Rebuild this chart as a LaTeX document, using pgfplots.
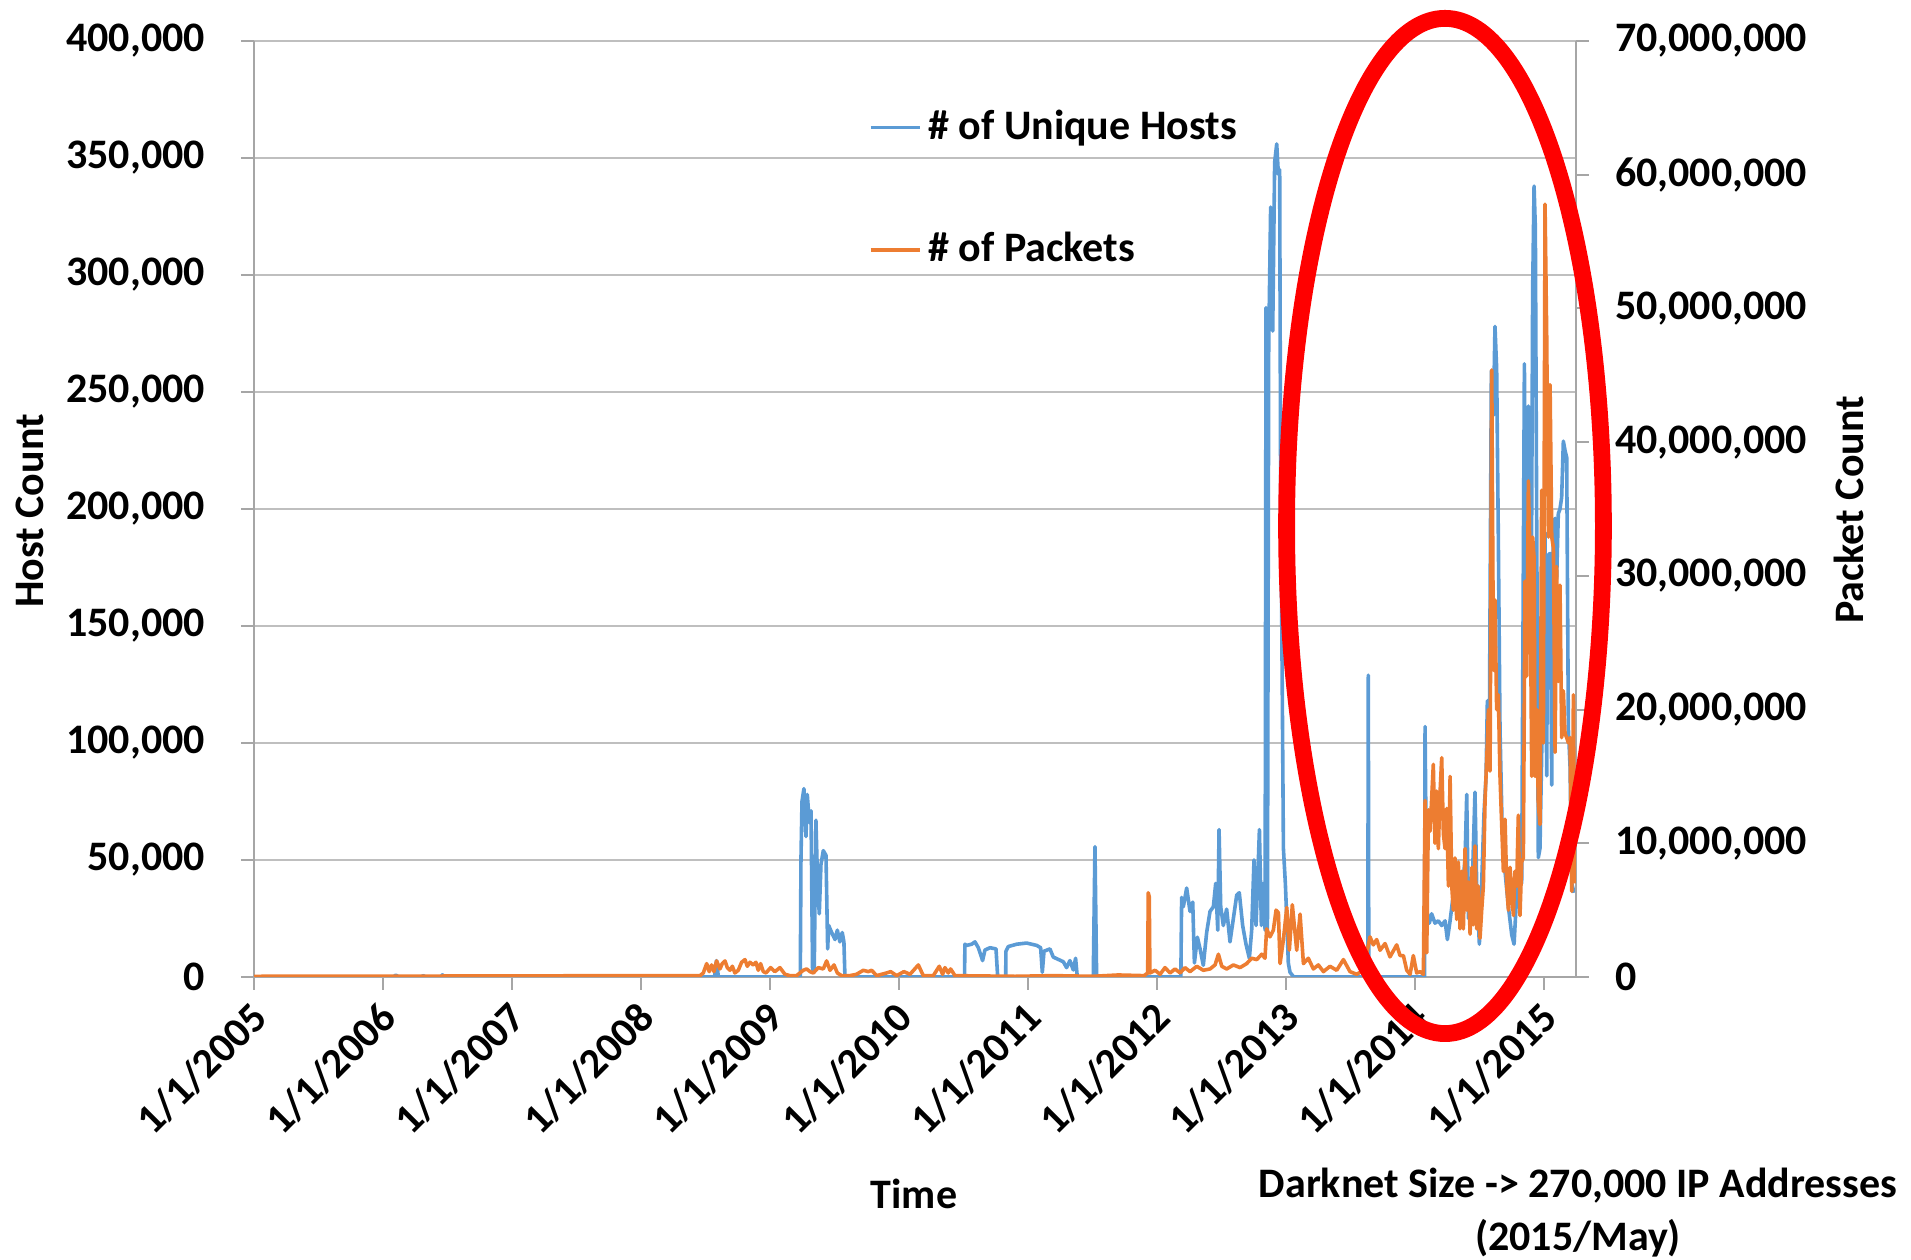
\documentclass[border=0pt]{standalone}
\usepackage{fontspec}
\setmainfont{Carlito}
\usepackage{pgfplots}
\pgfplotsset{compat=1.18}
\definecolor{hostblue}{HTML}{5B9BD5}
\definecolor{pktorange}{HTML}{ED7D31}
\definecolor{gridgray}{HTML}{BFBFBF}
\definecolor{axgray}{HTML}{A6A6A6}
\newcommand{\lbl}{\bfseries\fontsize{10.5}{12.6}\selectfont}
\begin{document}
\begin{tikzpicture}
\path[use as bounding box] (0,0) rectangle (477.75pt,315pt);
\begin{axis}[
  at={(63.5pt,70.75pt)}, anchor=south west, scale only axis,
  width=330.5pt, height=234pt,
  xmin=2005, xmax=2015.248, ymin=0, ymax=400000,
  axis x line*=bottom, axis y line*=left,
  axis line style={axgray, line width=0.6pt, -},
  xtick={2005,2006,2007,2008,2009,2010,2011,2012,2013,2014,2015},
  xticklabels={1/1/2005,1/1/2006,1/1/2007,1/1/2008,1/1/2009,1/1/2010,1/1/2011,1/1/2012,1/1/2013,1/1/2014,1/1/2015},
  ytick={0,50000,100000,150000,200000,250000,300000,350000,400000},
  scaled y ticks=false,
  ymajorgrids, grid style={gridgray, line width=0.5pt},
  tick align=outside, major tick length=3.25pt,
  tick style={axgray, line width=0.5pt},
  ticklabel style={font=\lbl},
  yticklabel style={/pgf/number format/fixed, /pgf/number format/1000 sep={,}, /pgf/number format/assume math mode=true, xshift=-5.5pt},
  xticklabel style={xshift=1.5pt, yshift=-5pt, rotate=45, anchor=east, inner sep=0pt},
]
\addplot[hostblue, line width=0.9pt, line join=round] coordinates {
(2005.0,0) (2006.08,0) (2006.10,800) (2006.12,0) (2006.30,0) (2006.31,600) (2006.33,0) (2006.45,0) (2006.46,900) (2006.48,0) (2008.57,0) (2008.585,7000) (2008.60,0) (2009.235,0)
(2009.240,50000) (2009.248,75000) (2009.263,80500) (2009.279,60000) (2009.289,78000) (2009.305,66000) (2009.318,71000) (2009.330,3000) (2009.343,3000) (2009.356,67000) (2009.369,40000) (2009.382,27000) (2009.395,48000) (2009.413,54000) (2009.434,52000) (2009.447,12000) (2009.455,22000) (2009.478,19000) (2009.504,16000) (2009.522,20000) (2009.542,15000) (2009.560,19000) (2009.573,15000) (2009.581,0)
(2010.508,0) (2010.511,14000) (2010.524,13500) (2010.563,14000) (2010.589,15000) (2010.615,12500) (2010.648,7000) (2010.666,11500) (2010.705,12500) (2010.752,12000) (2010.765,0) (2010.827,0) (2010.829,11000) (2010.847,13000) (2010.912,14000) (2010.989,14500) (2011.067,13500) (2011.098,12500) (2011.111,2000) (2011.124,11000) (2011.170,12000) (2011.196,8500) (2011.274,6500) (2011.299,4000) (2011.325,7000) (2011.351,3000) (2011.369,8000) (2011.382,0) (2011.506,0) (2011.519,55700) (2011.532,0) (2012.185,0)
(2012.191,34000) (2012.204,30000) (2012.230,38000) (2012.256,28000) (2012.277,32000) (2012.290,6000) (2012.313,17000) (2012.334,12000) (2012.359,5000) (2012.385,19000) (2012.411,28000) (2012.437,30000) (2012.455,40000) (2012.471,20000) (2012.481,63000) (2012.494,30000) (2012.514,22000) (2012.540,29000) (2012.566,15000) (2012.592,25000) (2012.618,35000) (2012.638,36000) (2012.664,22000) (2012.690,14000) (2012.716,8000) (2012.734,20000) (2012.752,50000) (2012.768,22000) (2012.794,63000) (2012.809,22000) (2012.825,40000) (2012.838,20000) (2012.845,286000) (2012.856,20000) (2012.866,270000) (2012.881,329000) (2012.892,300000) (2012.897,276000) (2012.912,348000) (2012.928,356000) (2012.941,343000) (2012.951,345000) (2012.959,200000) (2012.967,153000) (2012.980,55000) (2012.995,40000) (2013.006,25000) (2013.018,6000) (2013.031,2000) (2013.06,0) (2013.634,0) (2013.638,129000) (2013.642,0) (2014.074,0) (2014.078,107000)
(2014.091,28000) (2014.111,23000) (2014.129,27000) (2014.155,23000) (2014.181,24000) (2014.207,22000) (2014.233,24000) (2014.251,16000) (2014.272,24000) (2014.292,33000) (2014.310,30000) (2014.328,35000) (2014.349,28000) (2014.370,40000) (2014.388,50000) (2014.401,78000) (2014.414,25000) (2014.432,40000) (2014.447,45000) (2014.465,79000) (2014.478,40000) (2014.499,14000) (2014.517,40000) (2014.535,70000) (2014.551,86000) (2014.561,118000) (2014.577,110000) (2014.592,259000) (2014.608,240000) (2014.620,278000) (2014.633,260000) (2014.646,188000) (2014.659,106000) (2014.675,65000) (2014.698,45000) (2014.724,30000) (2014.750,18000) (2014.768,14000) (2014.788,35000) (2014.809,45000) (2014.827,40000) (2014.848,262000) (2014.861,150000) (2014.879,244000) (2014.892,170000) (2014.900,137000) (2014.912,293000) (2014.923,338000) (2014.933,320000) (2014.943,200000) (2014.956,51000) (2014.969,55000) (2014.990,120000) (2015.008,190000) (2015.021,86000) (2015.029,180000) (2015.047,181000) (2015.060,82000) (2015.073,194000) (2015.086,196000) (2015.098,170000) (2015.111,198000) (2015.124,200000) (2015.137,205000) (2015.150,229000) (2015.163,225000) (2015.176,222000) (2015.189,106000) (2015.202,90000) (2015.215,40000) (2015.233,36000)
};
\end{axis}
\begin{axis}[
  at={(63.5pt,70.75pt)}, anchor=south west, scale only axis,
  width=330.5pt, height=234pt,
  xmin=2005, xmax=2015.248, ymin=0, ymax=70000000,
  axis x line=none, axis y line*=right,
  axis line style={axgray, line width=0.6pt, -},
  ytick={0,10000000,20000000,30000000,40000000,50000000,60000000,70000000},
  scaled y ticks=false,
  tick align=outside, major tick length=3.25pt,
  tick style={axgray, line width=0.5pt},
  ticklabel style={font=\lbl},
  yticklabel style={/pgf/number format/fixed, /pgf/number format/1000 sep={,}, /pgf/number format/assume math mode=true, xshift=3pt},
  legend style={at={(0.4644,0.842)}, anchor=west, draw=none, fill=none, inner sep=0pt,
    nodes={inner sep=0pt, font=\lbl}, row sep=21.8pt, column sep=1.75pt},
  legend cell align=left,
  legend image code/.code={\draw[#1] (0pt,0pt) -- (12.25pt,0pt);},
]
\addlegendimage{hostblue, line width=0.75pt}
\addlegendentry{\# of Unique Hosts}
\addplot[pktorange, line width=0.9pt, line join=round] coordinates {
(2005.0,50000) (2006.0,60000) (2007.0,80000) (2008.0,100000) (2008.457,100000)
(2008.483,300000) (2008.509,1000000) (2008.529,400000) (2008.547,900000) (2008.566,400000) (2008.586,1200000) (2008.612,600000) (2008.630,1000000) (2008.651,1200000) (2008.669,700000) (2008.690,500000) (2008.708,800000) (2008.728,300000) (2008.754,500000) (2008.780,1100000) (2008.806,1300000) (2008.824,800000) (2008.845,1100000) (2008.870,900000) (2008.891,1100000) (2008.909,500000) (2008.927,1000000) (2008.948,400000) (2008.969,300000) (2009.005,700000) (2009.038,400000) (2009.077,700000) (2009.116,200000) (2009.155,100000) (2009.206,100000) (2009.258,500000) (2009.284,600000) (2009.310,400000) (2009.336,300000) (2009.374,700000) (2009.413,600000) (2009.439,1200000) (2009.465,500000) (2009.496,900000) (2009.522,300000) (2009.555,100000) (2009.620,100000) (2009.671,200000) (2009.723,500000) (2009.762,400000) (2009.788,500000) (2009.827,100000) (2009.904,300000) (2009.935,400000) (2009.982,100000) (2010.038,400000) (2010.085,200000) (2010.150,900000) (2010.188,100000) (2010.266,100000) (2010.312,800000) (2010.338,200000) (2010.356,700000) (2010.382,300000) (2010.400,600000) (2010.434,100000)
(2010.6,80000) (2010.9,50000) (2011.2,100000) (2011.5,50000) (2011.7,150000) (2011.9,100000) (2011.928,300000) (2011.932,6300000) (2011.940,6000000) (2011.945,300000)
(2011.985,500000) (2012.024,200000) (2012.062,700000) (2012.101,300000) (2012.140,600000) (2012.179,300000) (2012.217,700000) (2012.256,400000) (2012.308,800000) (2012.359,500000) (2012.411,600000) (2012.450,900000) (2012.476,1700000) (2012.502,800000) (2012.540,600000) (2012.592,900000) (2012.644,700000) (2012.695,1000000) (2012.734,1400000) (2012.773,1300000) (2012.812,1700000) (2012.837,1400000) (2012.850,3600000) (2012.876,3000000) (2012.902,3500000) (2012.923,5000000) (2012.941,4800000) (2012.954,1000000) (2012.980,2800000) (2013.006,5200000) (2013.026,2000000) (2013.049,5400000) (2013.083,2000000) (2013.109,4700000) (2013.135,1000000) (2013.173,1400000) (2013.212,600000) (2013.251,900000) (2013.290,400000) (2013.341,800000) (2013.393,500000) (2013.445,1300000) (2013.496,400000) (2013.548,200000) (2013.600,500000) (2013.651,3000000) (2013.677,2400000) (2013.703,2800000) (2013.729,2000000) (2013.768,2500000) (2013.806,1500000) (2013.858,2400000) (2013.884,1600000)
(2013.910,1600000) (2013.936,500000) (2013.962,200000) (2013.987,1600000) (2014.013,300000) (2014.039,400000) (2014.065,200000)
(2014.078,13200000) (2014.091,1800000) (2014.104,12500000) (2014.117,10900000) (2014.142,15900000) (2014.155,10000000) (2014.168,13900000) (2014.181,9600000) (2014.194,13750000) (2014.207,16400000) (2014.220,10700000) (2014.233,9600000) (2014.246,12600000) (2014.259,6800000) (2014.272,15000000) (2014.285,6800000) (2014.297,5000000) (2014.310,8900000) (2014.323,4300000) (2014.336,8600000) (2014.349,3600000) (2014.362,7900000) (2014.375,3600000) (2014.388,9600000) (2014.401,5000000) (2014.414,7100000) (2014.427,3200000) (2014.440,8200000) (2014.452,3900000) (2014.465,9800000) (2014.478,3600000) (2014.491,6800000) (2014.504,2900000) (2014.517,5000000) (2014.530,6800000) (2014.543,13200000) (2014.561,17500000) (2014.569,20000000) (2014.582,15400000) (2014.595,45400000) (2014.608,23200000) (2014.615,22900000) (2014.620,28200000) (2014.633,20000000) (2014.646,21100000) (2014.659,15000000) (2014.672,11400000) (2014.685,7900000) (2014.698,11800000) (2014.711,6800000) (2014.724,5000000) (2014.737,8200000) (2014.750,6100000) (2014.763,4600000) (2014.775,7900000) (2014.788,6800000) (2014.801,12100000) (2014.814,4600000) (2014.827,8600000) (2014.840,8900000) (2014.853,29600000) (2014.866,22500000) (2014.879,37100000) (2014.892,31100000) (2014.905,15000000) (2014.912,32900000) (2014.923,31400000) (2014.931,15000000) (2014.944,20000000) (2014.956,12900000) (2014.969,11400000) (2014.982,36400000) (2014.990,33200000) (2014.995,17500000) (2015.008,57800000) (2015.021,47900000) (2015.034,32900000) (2015.047,44300000) (2015.060,32900000) (2015.073,32100000) (2015.086,16800000) (2015.098,30700000) (2015.111,22100000) (2015.124,29300000) (2015.137,17900000) (2015.150,21400000) (2015.163,18200000) (2015.176,17900000) (2015.189,17500000) (2015.202,17900000) (2015.215,6400000) (2015.228,21100000) (2015.236,7000000)
};
\addlegendentry{\# of Packets}
\end{axis}
\node[font=\lbl, rotate=90] at (7.5pt,187.25pt) {Host Count};
\node[font=\lbl, rotate=90] at (462.25pt,187.5pt) {Packet Count};
\node[font=\lbl] at (228.5pt,16.4pt) {Time};
\node[font=\lbl] at (394.5pt,18.5pt) {Darknet Size -> 270,000 IP Addresses};
\node[font=\lbl] at (394.5pt,5.5pt) {(2015/May)};
\draw[red, line width=4.2pt] (361.25pt,183.5pt) ellipse [x radius=39.6pt, y radius=126.9pt];
\end{tikzpicture}
\end{document}
